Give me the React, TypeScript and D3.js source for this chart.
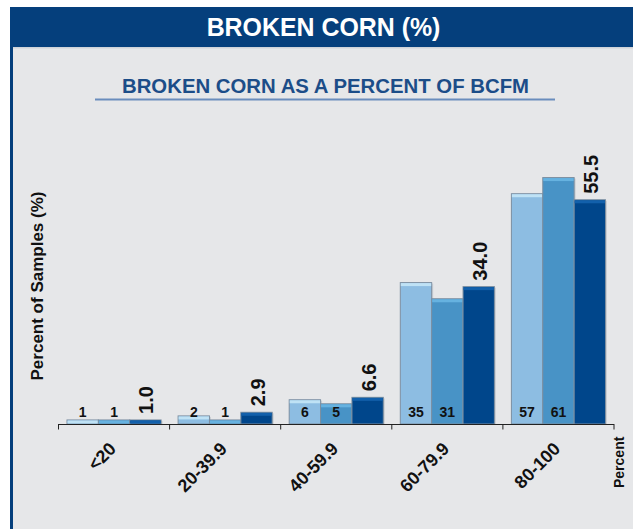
import * as d3 from "d3"

const categories = ["<20", "20-39.9", "40-59.9", "60-79.9", "80-100"]
const seriesA = [1, 2, 6, 35, 57]
const seriesB = [1, 1, 5, 31, 61]
const seriesC = [1.0, 2.9, 6.6, 34.0, 55.5]

const W = 633
const H = 529
const FONT = "'Liberation Sans', Arial, sans-serif"

const series = [
  { key: "a", values: seriesA, fill: "#8dbde2", top: "#bfe2f5" },
  { key: "b", values: seriesB, fill: "#4893c6", top: "#66b2e0" },
  { key: "c", values: seriesC, fill: "#00468b", top: "#1260ab" },
]

export default function App() {
  const base = 424
  const x0 = d3.scaleBand<string>().domain(categories).range([58.5, 614])
  const x1 = d3
    .scaleBand<string>()
    .domain(series.map((s) => s.key))
    .range([8.5, x0.bandwidth() - 8.5])
  const y = d3.scaleLinear().domain([0, 60]).range([base, base - 60 * 4.04])
  const fmt = d3.format(".1f")
  const ticks = categories.map((c) => x0(c)!).concat([x0.range()[1]])

  return (
    <svg
      width={W}
      height={H}
      style={{ position: "absolute", left: 0, top: 0, fontFamily: FONT }}
    >
      <rect x={0} y={0} width={W} height={H} fill="#fff" />
      <rect x={12} y={47} width={W - 12} height={H - 47} fill="#e6e7e9" />
      <rect x={10} y={7} width={W - 10} height={40} fill="#053f7c" />
      <rect x={10} y={7} width={3} height={H - 7} fill="#053f7c" />
      <rect x={13} y={47} width={W - 13} height={1.5} fill="#cfd3d9" />

      <text
        transform="translate(323.5,36) scale(0.94,1)"
        textAnchor="middle"
        fill="#fff"
        fontSize={26.5}
        fontWeight="bold"
      >
        BROKEN CORN (%)
      </text>
      <text
        transform="translate(325.5,93) scale(0.97,1)"
        textAnchor="middle"
        fill="#1c4d88"
        fontSize={21}
        fontWeight="bold"
      >
        BROKEN CORN AS A PERCENT OF BCFM
      </text>
      <line x1={95} x2={555} y1={99.5} y2={99.5} stroke="#6a8dbd" strokeWidth={2} />

      <text
        transform={`translate(43,286) rotate(-90)`}
        textAnchor="middle"
        fontSize={17}
        fontWeight="bold"
        fill="#111"
      >
        Percent of Samples (%)
      </text>

      {categories.map((c, i) => (
        <g key={c} transform={`translate(${x0(c)},0)`}>
          {series.map((s) => {
            const bx = x1(s.key)!
            const bw = x1.bandwidth()
            const ty = y(s.values[i])
            const h = base - ty
            return (
              <g key={s.key}>
                <rect
                  x={bx + 1.5}
                  y={ty + 1}
                  width={bw}
                  height={h}
                  fill="#b9bec4"
                  opacity={0.6}
                />
                <rect
                  x={bx}
                  y={ty}
                  width={bw}
                  height={h}
                  fill={s.fill}
                  stroke="#7d8fa1"
                  strokeWidth={1}
                />
                <rect
                  x={bx + 0.5}
                  y={ty + 0.5}
                  width={bw - 1}
                  height={Math.min(3, h - 0.5)}
                  fill={s.top}
                />
                {s.key === "c" ? (
                  <text
                    transform={`translate(${bx + bw / 2 + 8},${ty - 6}) rotate(-90)`}
                    fontSize={20}
                    fontWeight="bold"
                    fill="#111"
                  >
                    {fmt(s.values[i])}
                  </text>
                ) : (
                  <text
                    x={bx + bw / 2}
                    y={base - 7}
                    textAnchor="middle"
                    fontSize={14}
                    fontWeight="bold"
                    fill="#111"
                  >
                    {s.values[i]}
                  </text>
                )}
              </g>
            )
          })}
          <text
            transform={`translate(${x0.bandwidth() / 2 + 3},450) rotate(-45)`}
            textAnchor="end"
            fontSize={18}
            fontWeight="bold"
            fill="#111"
          >
            {c}
          </text>
        </g>
      ))}

      <line x1={58.5} x2={614} y1={base + 0.5} y2={base + 0.5} stroke="#222" />
      {ticks.map((t, i) => (
        <line key={i} x1={t} x2={t} y1={base} y2={base + 5.5} stroke="#222" />
      ))}

      <text
        transform={`translate(624,488) rotate(-90)`}
        fontSize={14}
        fontWeight="bold"
        fill="#111"
      >
        Percent
      </text>
    </svg>
  )
}
